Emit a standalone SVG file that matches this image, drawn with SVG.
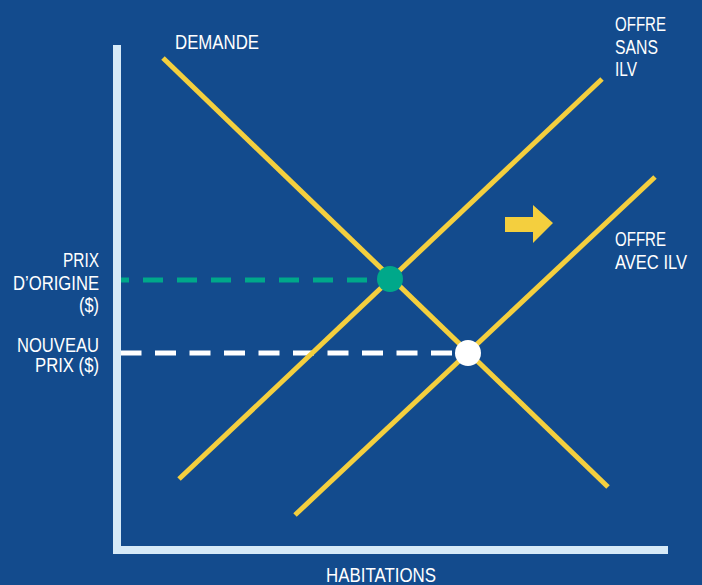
<svg xmlns="http://www.w3.org/2000/svg" width="702" height="585" viewBox="0 0 702 585">
<style>
.lbl{font-family:"Liberation Sans",Arial,sans-serif;font-size:20px;fill:#ffffff}
.curve{stroke:#F4CF3E;stroke-width:5;fill:none}
.axis{stroke:#D6EAF8;stroke-width:8;fill:none}
</style>
<rect width="702" height="585" fill="#134B8D"/>
<g id="connectors">
<line x1="121" y1="280" x2="367" y2="280" stroke="#00A88A" stroke-width="5" stroke-dasharray="20 14" stroke-dashoffset="12"/>
<line x1="121" y1="353" x2="452" y2="353" stroke="#ffffff" stroke-width="5" stroke-dasharray="21 13.5" stroke-dashoffset="0.5"/>
<line class="curve" x1="163" y1="58" x2="608" y2="487"/>
<line class="curve" x1="179" y1="479" x2="602" y2="79"/>
<line class="curve" x1="295" y1="515" x2="655" y2="177"/>
</g>
<g id="axes">
<polyline class="axis" points="117,45 117,550 668,550"/>
</g>
<g id="arrow">
<polygon points="505,217 533,217 533,205 553,223 533,243 533,232 505,232" fill="#F4CF3E"/>
</g>
<g id="eq-original"><circle cx="390" cy="279" r="13" fill="#00A88A"/></g>
<g id="eq-new"><circle cx="468" cy="353" r="13" fill="#ffffff"/></g>
<g id="label-demande"><text class="lbl" x="175" y="49" textLength="84" lengthAdjust="spacingAndGlyphs">DEMANDE</text></g>
<g id="label-offre-sans">
<text class="lbl" x="615" y="31" textLength="51" lengthAdjust="spacingAndGlyphs">OFFRE</text>
<text class="lbl" x="615" y="54" textLength="43" lengthAdjust="spacingAndGlyphs">SANS</text>
<text class="lbl" x="615" y="76" textLength="22" lengthAdjust="spacingAndGlyphs">ILV</text>
</g>
<g id="label-offre-avec">
<text class="lbl" x="615" y="246" textLength="51" lengthAdjust="spacingAndGlyphs">OFFRE</text>
<text class="lbl" x="615" y="269" textLength="72" lengthAdjust="spacingAndGlyphs">AVEC ILV</text>
</g>
<g id="label-prix-origine">
<text class="lbl" x="63" y="267" textLength="36" lengthAdjust="spacingAndGlyphs">PRIX</text>
<text class="lbl" x="13" y="290" textLength="86" lengthAdjust="spacingAndGlyphs">D’ORIGINE</text>
<text class="lbl" x="79" y="312" textLength="20" lengthAdjust="spacingAndGlyphs">($)</text>
</g>
<g id="label-nouveau-prix">
<text class="lbl" x="17" y="352" textLength="82" lengthAdjust="spacingAndGlyphs">NOUVEAU</text>
<text class="lbl" x="35" y="372" textLength="64" lengthAdjust="spacingAndGlyphs">PRIX ($)</text>
</g>
<g id="label-habitations"><text class="lbl" x="326" y="582" textLength="110" lengthAdjust="spacingAndGlyphs">HABITATIONS</text></g>
</svg>
